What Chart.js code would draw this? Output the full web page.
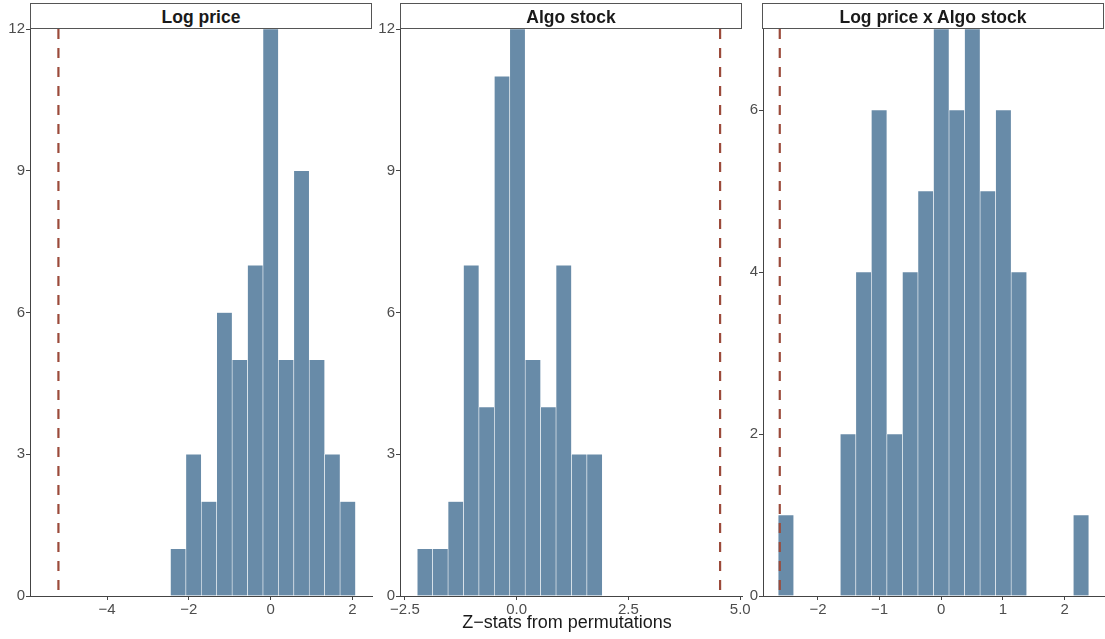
<!DOCTYPE html>
<html>
<head>
<meta charset="utf-8">
<title>Z-stats from permutations</title>
<script src="https://cdn.jsdelivr.net/npm/chart.js@4.4.1/dist/chart.umd.min.js"></script>
<style>
  body { margin: 0; background: #fff; }
  #wrap { position: relative; width: 1105px; height: 639px; font-family: "Liberation Sans", Arial, sans-serif; }
  #wrap canvas { position: absolute; left: 0; top: 0; }
  .strip {
    position: absolute; top: 3px; height: 26px; box-sizing: border-box;
    border: 1px solid #555; background: #fff;
    padding-top: 3px; line-height: 21px;
    text-align: center; font-weight: bold; font-size: 17.5px; color: #1a1a1a;
  }
  #xtitle {
    position: absolute; left: 367px; width: 400px; top: 612px;
    text-align: center; font-size: 18px; color: #1a1a1a;
  }
</style>
</head>
<body>
<div id="wrap">
  <canvas id="pricePanel" width="1105" height="639"></canvas>
  <canvas id="algoPanel" width="1105" height="639"></canvas>
  <canvas id="interPanel" width="1105" height="639"></canvas>
  <div class="strip" style="left:30px; width:342px;">Log price</div>
  <div class="strip" style="left:400px; width:342px;">Algo stock</div>
  <div class="strip" style="left:762px; width:342px;">Log price x Algo stock</div>
  <div id="xtitle">Z−stats from permutations</div>
</div>
<script>
// histogram bins (bin centre, count)
const priceBins = [-2.262, -1.885, -1.508, -1.131, -0.754, -0.377, 0, 0.377, 0.754, 1.131, 1.508, 1.885];
const priceCounts = [1, 3, 2, 6, 5, 7, 12, 5, 9, 5, 3, 2];
const priceObserved = -5.19;

const algoBins = [-2.052, -1.707, -1.362, -1.017, -0.672, -0.327, 0.018, 0.363, 0.708, 1.053, 1.398, 1.743];
const algoCounts = [1, 1, 2, 7, 4, 11, 12, 5, 4, 7, 3, 3];
const algoObserved = 4.55;

const interBins = [-2.52, -1.512, -1.26, -1.008, -0.756, -0.504, -0.252, 0, 0.252, 0.504, 0.756, 1.008, 1.26, 2.268];
const interCounts = [1, 2, 4, 6, 2, 4, 5, 7, 6, 7, 5, 6, 4, 1];
const interObserved = -2.62;

// tick labels
const priceXTicks = [-4, -2, 0, 2];
const priceXLabels = ['−4', '−2', '0', '2'];
const algoXTicks = [-2.5, 0, 2.5, 5];
const algoXLabels = ['−2.5', '0.0', '2.5', '5.0'];
const interXTicks = [-2, -1, 0, 1, 2];
const interXLabels = ['−2', '−1', '0', '1', '2'];
const countTicks12 = [0, 3, 6, 9, 12];
const countTicks7 = [0, 2, 4, 6];

const FONT = '"Liberation Sans", Arial, sans-serif';
const BAR = '#688ba8';
const DASH = '#9b4a3a';
const AXIS = '#444';

function makePanel(id, bins, counts, observed, p) {
    new Chart(document.getElementById(id), {
        type: 'bar',
        data: {
            datasets: [{
                type: 'line',
                data: [{x: observed, y: p.yMax}, {x: observed, y: 0}],
                borderColor: DASH,
                borderWidth: 2.2,
                borderDash: [10, 9],
                pointRadius: 0,
                order: 0
            }, {
                data: bins.map((b, i) => ({x: b, y: counts[i]})),
                backgroundColor: BAR,
                borderColor: 'rgba(255,255,255,0.85)',
                borderWidth: 0.6,
                barPercentage: 1,
                categoryPercentage: 1,
                order: 1
            }]
        },
        options: {
            responsive: false,
            animation: false,
            events: [],
            layout: {padding: {left: p.left - 30, right: 1105 - p.right, top: 29, bottom: 0}},
            plugins: {legend: {display: false}, tooltip: {enabled: false}},
            scales: {
                x: {
                    type: 'linear',
                    min: p.xMin,
                    max: p.xMax,
                    offset: false,
                    afterBuildTicks: s => { s.ticks = p.xTicks.map(v => ({value: v})); },
                    afterFit: s => { s.height = 43; },
                    border: {display: true, color: AXIS, width: 1},
                    grid: {display: true, offset: false, drawOnChartArea: false, drawTicks: true, tickLength: 4, color: AXIS},
                    ticks: {
                        color: '#4d4d4d', font: {family: FONT, size: 15}, padding: 1,
                        maxRotation: 0, autoSkip: false,
                        callback: (v, i) => p.xLabels[i]
                    }
                },
                y: {
                    min: 0,
                    max: p.yMax,
                    afterBuildTicks: s => { s.ticks = p.yTicks.map(v => ({value: v})); },
                    afterFit: s => { s.width = 30; },
                    border: {display: true, color: AXIS, width: 1},
                    grid: {display: true, drawOnChartArea: false, drawTicks: true, tickLength: 4, color: AXIS},
                    ticks: {
                        color: '#4d4d4d', font: {family: FONT, size: 15}, padding: 1,
                        autoSkip: false,
                        callback: v => String(v)
                    }
                }
            }
        }
    });
}

window.addEventListener('DOMContentLoaded', () => {
    // Log price
    makePanel('pricePanel', priceBins, priceCounts, priceObserved, {
        left: 30, right: 372, xMin: -5.885, xMax: 2.477,
        xTicks: priceXTicks, xLabels: priceXLabels, yMax: 12, yTicks: countTicks12
    });
    // Algo stock
    makePanel('algoPanel', algoBins, algoCounts, algoObserved, {
        left: 400, right: 742, xMin: -2.61, xMax: 5.04,
        xTicks: algoXTicks, xLabels: algoXLabels, yMax: 12, yTicks: countTicks12
    });
    // Log price x Algo stock
    makePanel('interPanel', interBins, interCounts, interObserved, {
        left: 763, right: 1104, xMin: -2.892, xMax: 2.64,
        xTicks: interXTicks, xLabels: interXLabels, yMax: 7, yTicks: countTicks7
    });
});
</script>
</body>
</html>
